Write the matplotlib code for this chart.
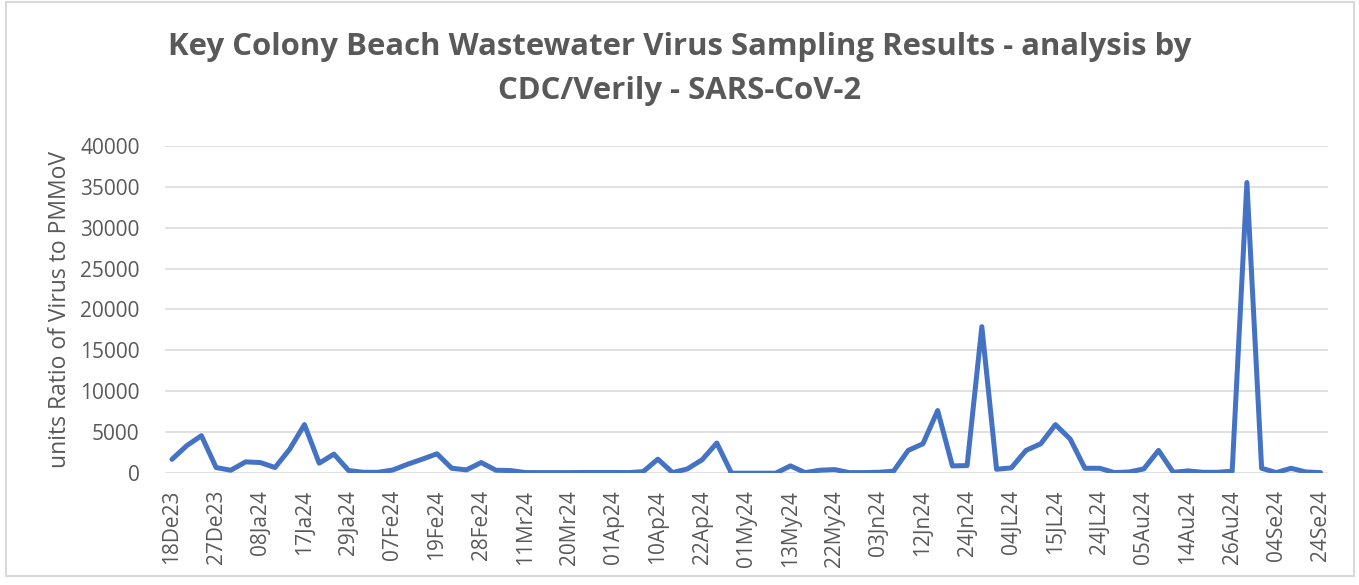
import matplotlib.pyplot as plt
from matplotlib.patches import Rectangle

# ratio values, one per sample
ratio = [1700, 3360, 4590, 700, 370, 1390, 1310, 700, 2950, 5940,
         1230, 2340, 330, 120, 120, 400, 1100, 1720, 2380, 610,
         410, 1310, 370, 330, 90, 80, 80, 80, 100, 100,
         100, 80, 200, 1720, 80, 530, 1640, 3690, 10, 10,
         10, 10, 900, 80, 370, 450, 80, 80, 120, 250,
         2790, 3600, 7660, 900, 940, 17900, 490, 660, 2790, 3600,
         5940, 4180, 610, 610, 80, 160, 530, 2790, 120, 290,
         120, 120, 250, 35500, 610, 80, 610, 160, 80]

# every third sample carries a label
tick_labels = ['18De23', '27De23', '08Ja24', '17Ja24', '29Ja24', '07Fe24', '19Fe24',
               '28Fe24', '11Mr24', '20Mr24', '01Ap24', '10Ap24', '22Ap24', '01My24',
               '13My24', '22My24', '03Jn24', '12Jn24', '24Jn24', '04JL24', '15JL24',
               '24JL24', '05Au24', '14Au24', '26Au24', '04Se24', '24Se24']

grey = '#595959'
plt.rcParams['font.family'] = ['Open Sans', 'DejaVu Sans']

fig = plt.figure(figsize=(13.59, 5.85), dpi=100)
ax = fig.add_axes([0.1211, 0.191, 0.856, 0.560])

x = range(len(ratio))
ax.plot(x, ratio, color='#4472C4', linewidth=3.6, solid_joinstyle='round', solid_capstyle='round')

ax.set_xlim(-0.5, len(ratio) - 0.5)
ax.set_ylim(0, 40000)
ax.set_yticks(range(0, 40001, 5000))
ax.set_xticks(range(0, len(ratio), 3))
ax.set_xticklabels(tick_labels, rotation=90)
ax.grid(axis='y', color='#D9D9D9', linewidth=1.1)
ax.set_axisbelow(True)
for s in ax.spines.values():
    s.set_visible(False)
ax.tick_params(axis='both', length=0, labelsize=15, labelcolor=grey)
ax.tick_params(axis='y', pad=18)
ax.tick_params(axis='x', pad=12)

ax.set_ylabel('units Ratio of Virus to PMMoV', fontsize=16.5, color=grey, labelpad=6)

fig.text(0.5, 0.945, 'Key Colony Beach Wastewater Virus Sampling Results - analysis by\nCDC/Verily - SARS-CoV-2',
         ha='center', va='top', fontsize=22.4, fontweight='bold', color=grey, linespacing=1.6)

fig.patches.append(Rectangle((6 / 1359, 9 / 585), 1348 / 1359, 574 / 585, transform=fig.transFigure,
                             fill=False, edgecolor='#D9D9D9', linewidth=1.5))

fig.savefig('out.png', dpi=100)
